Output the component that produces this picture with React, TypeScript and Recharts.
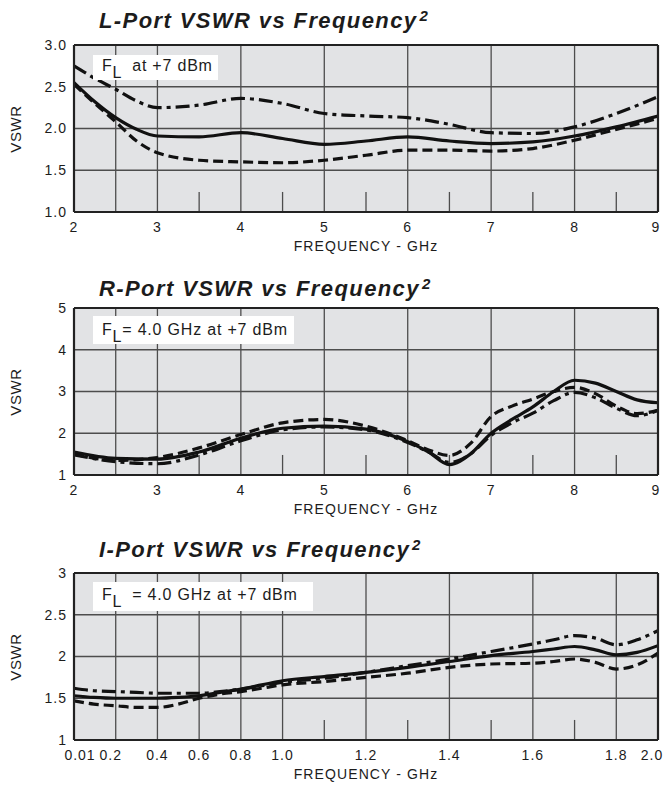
import React from 'react';
import { LineChart, Line, XAxis, YAxis, CartesianGrid, ReferenceLine } from 'recharts';

const FONT = '"Liberation Sans", Arial, Helvetica, sans-serif';
const INK = '#1c1c1c';
const PANEL = '#e2e3e5';
const GRID = '#4d4d4d';

// L-Port VSWR, frequency in GHz
const lFreq = [2, 2.25, 2.5, 2.75, 3, 3.5, 4, 4.5, 5, 5.5, 6, 6.5, 7, 7.5, 8, 8.5, 9];
const lSolid = [2.55, 2.32, 2.13, 1.99, 1.91, 1.9, 1.95, 1.88, 1.81, 1.85, 1.9, 1.85, 1.82, 1.84, 1.91, 2.02, 2.15];
const lDashed = [2.53, 2.3, 2.08, 1.85, 1.71, 1.62, 1.6, 1.59, 1.62, 1.68, 1.74, 1.74, 1.73, 1.76, 1.86, 1.99, 2.12];
const lDashDot = [2.75, 2.6, 2.47, 2.33, 2.25, 2.28, 2.36, 2.3, 2.18, 2.15, 2.13, 2.05, 1.95, 1.94, 2.02, 2.18, 2.38];

// R-Port VSWR
const rFreq = [2, 2.5, 3, 3.5, 4, 4.5, 5, 5.5, 6, 6.25, 6.5, 6.75, 7, 7.25, 7.5, 7.75, 8, 8.25, 8.5, 8.75, 9];
const rSolid = [1.55, 1.4, 1.38, 1.55, 1.88, 2.12, 2.17, 2.1, 1.8, 1.55, 1.25, 1.5, 2.0, 2.33, 2.63, 3.0, 3.27, 3.2, 3.0, 2.8, 2.73];
const rDashed = [1.5, 1.35, 1.42, 1.65, 1.97, 2.25, 2.33, 2.17, 1.82, 1.6, 1.47, 1.75, 2.4, 2.65, 2.82, 3.0, 3.1, 2.95, 2.65, 2.47, 2.55];
const rDashDot = [1.48, 1.32, 1.27, 1.48, 1.82, 2.08, 2.15, 2.08, 1.78, 1.55, 1.3, 1.5, 1.95, 2.25, 2.48, 2.78, 2.98, 2.85, 2.6, 2.42, 2.55];

// I-Port VSWR
const iFreq = [0.01, 0.1, 0.2, 0.3, 0.4, 0.5, 0.6, 0.7, 0.8, 0.9, 1.0, 1.1, 1.2, 1.3, 1.4, 1.5, 1.6, 1.65, 1.7, 1.75, 1.8, 1.9, 2.0];
const iSolid = [1.53, 1.51, 1.5, 1.5, 1.5, 1.51, 1.53, 1.57, 1.61, 1.66, 1.71, 1.76, 1.81, 1.87, 1.94, 2.01, 2.06, 2.09, 2.12, 2.08, 2.02, 2.05, 2.13];
const iDashed = [1.47, 1.43, 1.41, 1.39, 1.39, 1.43, 1.5, 1.55, 1.58, 1.62, 1.66, 1.7, 1.75, 1.8, 1.87, 1.91, 1.92, 1.94, 1.97, 1.93, 1.85, 1.9, 2.04];
const iDashDot = [1.62, 1.59, 1.58, 1.57, 1.56, 1.56, 1.56, 1.58, 1.61, 1.65, 1.69, 1.74, 1.81, 1.89, 1.97, 2.06, 2.15, 2.2, 2.25, 2.22, 2.14, 2.2, 2.31];
const iTickFreq = [0.01, 0.2, 0.4, 0.6, 0.8, 1.0, 1.2, 1.4, 1.6, 1.8, 2.0];
const iTickLabels = ['0.01', '0.2', '0.4', '0.6', '0.8', '1.0', '1.2', '1.4', '1.6', '1.8', '2.0'];
const iMinorFreq = [1.1, 1.3, 1.5, 1.7];

// the I-port axis is stretched above 1 GHz
const iPos = (f: number) => {
  const p = f <= 0.2 ? (f - 0.01) / 0.19 : f <= 1.0 ? f / 0.2 : f <= 1.8 ? 5 + (f - 1) / 0.1 : 13 + (f - 1.8) / 0.2;
  return Math.round(p * 1000) / 1000;
};

const build = (xs: number[], s: number[], d: number[], dd: number[]) =>
  xs.map((x, i) => ({ x, solid: s[i], dashed: d[i], dashDot: dd[i] }));

const lRows = build(lFreq, lSolid, lDashed, lDashDot);
const rRows = build(rFreq, rSolid, rDashed, rDashDot);
const iRows = build(iFreq.map(iPos), iSolid, iDashed, iDashDot);
const iTickPos = iTickFreq.map(iPos);

const ghzTicks = [2, 3, 4, 5, 6, 7, 8, 9];
const ghzFull = [2.5, 3, 4, 5, 6, 7, 8];
const ghzMinor = [3.5, 4.5, 5.5, 6.5, 7.5, 8.5];

type PortChartProps = {
  top: number;
  height: number;
  title: string;
  titleTop: number;
  box: React.ReactNode;
  boxTop: number;
  boxWidth: number;
  boxHeight: number;
  boxPad: number;
  rows: { x: number; solid: number; dashed: number; dashDot: number }[];
  xDomain: [number, number];
  xTicks: number[];
  xLabel: (v: number) => string;
  xShift?: (s: string) => number;
  fullX: number[];
  minorX: number[];
  yDomain: [number, number];
  yTicks: number[];
  yLabel: (v: number) => string;
  minorH: number;
};

const PortChart = (p: PortChartProps) => {
  const plotTop = p.top + 45;
  const xTick = (props: any) => {
    const s = p.xLabel(props.payload.value);
    const dx = p.xShift ? p.xShift(s) : 0;
    return (
      <text x={props.x + dx} y={props.y} dy="0.71em" textAnchor="middle" fontSize={14} fill={INK} style={{ letterSpacing: 1 }}>
        {s}
      </text>
    );
  };
  return (
    <div style={{ position: 'absolute', left: 0, top: p.top, width: 666, height: p.height }}>
      <LineChart
        width={666}
        height={p.height}
        data={p.rows}
        margin={{ top: 45, right: 8, bottom: p.height - 45 - 167 - 47, left: 0 }}
        style={{ fontFamily: FONT }}
      >
        <CartesianGrid vertical={false} fill={PANEL} fillOpacity={1} stroke={GRID} strokeWidth={1.3} />
        <XAxis
          dataKey="x"
          type="number"
          domain={p.xDomain}
          ticks={p.xTicks}
          interval={0}
          height={47}
          axisLine={false}
          tickLine={false}
          tickSize={0}
          tickMargin={10}
          tick={xTick}
          allowDataOverflow
          label={{ value: 'FREQUENCY - GHz', position: 'insideBottom', offset: 8, fontSize: 14, fill: INK, style: { letterSpacing: 1.1 } }}
        />
        <YAxis
          type="number"
          domain={p.yDomain}
          ticks={p.yTicks}
          interval={0}
          width={74}
          axisLine={false}
          tickLine={false}
          tickSize={0}
          tickMargin={7}
          tickFormatter={p.yLabel}
          tick={{ fontSize: 14, fill: INK, style: { letterSpacing: 1 } }}
          allowDataOverflow
        />
        {p.fullX.map((v) => (
          <ReferenceLine key={'f' + v} x={v} stroke={GRID} strokeWidth={1.3} />
        ))}
        {p.minorX.map((v) => (
          <ReferenceLine
            key={'m' + v}
            segment={[{ x: v, y: p.yDomain[0] }, { x: v, y: p.yDomain[0] + p.minorH }]}
            stroke={GRID}
            strokeWidth={1.3}
          />
        ))}
        <Line type="monotone" dataKey="solid" stroke="#111" strokeWidth={3.2} dot={false} isAnimationActive={false} />
        <Line type="monotone" dataKey="dashed" stroke="#111" strokeWidth={3.2} strokeDasharray="10 5" dot={false} isAnimationActive={false} />
        <Line type="monotone" dataKey="dashDot" stroke="#111" strokeWidth={3.2} strokeDasharray="14 5 4 5" dot={false} isAnimationActive={false} />
        <ReferenceLine x={p.xDomain[0]} stroke="#222" strokeWidth={2.2} />
        <ReferenceLine x={p.xDomain[1]} stroke="#222" strokeWidth={2.2} />
        <ReferenceLine y={p.yDomain[0]} stroke="#222" strokeWidth={2.2} />
        <ReferenceLine y={p.yDomain[1]} stroke="#222" strokeWidth={2.2} />
      </LineChart>
      <div
        style={{
          position: 'absolute',
          left: 99,
          top: p.titleTop - p.top,
          fontFamily: FONT,
          fontWeight: 'bold',
          fontStyle: 'italic',
          fontSize: 22,
          lineHeight: '22px',
          letterSpacing: 1.4,
          color: INK,
          whiteSpace: 'nowrap',
        }}
      >
        {p.title}
        <span style={{ position: 'relative', top: -7, fontSize: 15, marginLeft: 2 }}>2</span>
      </div>
      <div
        style={{
          position: 'absolute',
          left: 93,
          top: p.boxTop - p.top,
          width: p.boxWidth,
          height: p.boxHeight,
          boxSizing: 'border-box',
          paddingTop: p.boxPad,
          paddingLeft: 9,
          background: '#fff',
          fontFamily: FONT,
          fontSize: 16,
          lineHeight: '16px',
          letterSpacing: 0.8,
          color: INK,
          whiteSpace: 'pre',
        }}
      >
        {p.box}
      </div>
      <div
        style={{
          position: 'absolute',
          left: 15,
          top: plotTop - p.top + 83.5,
          transform: 'translate(-50%, -50%) rotate(-90deg)',
          fontFamily: FONT,
          fontSize: 15,
          lineHeight: '15px',
          letterSpacing: 0.6,
          color: INK,
          whiteSpace: 'nowrap',
        }}
      >
        VSWR
      </div>
    </div>
  );
};

const Sub = () => <span style={{ position: 'relative', top: 7 }}>L</span>;

const App = () => (
  <div style={{ position: 'absolute', left: 0, top: 0, width: 666, height: 787, background: '#fff' }}>
    <PortChart
      top={0}
      height={265}
      title="L-Port VSWR vs Frequency"
      titleTop={10}
      box={<>F<Sub />  at +7 dBm</>}
      boxTop={55}
      boxWidth={125}
      boxHeight={25}
      boxPad={3}
      rows={lRows}
      xDomain={[2, 9]}
      xTicks={ghzTicks}
      xLabel={(v) => String(v)}
      xShift={(s) => (s === '9' ? -2 : 0)}
      fullX={ghzFull}
      minorX={ghzMinor}
      yDomain={[1, 3]}
      yTicks={[1, 1.5, 2, 2.5, 3]}
      yLabel={(v) => v.toFixed(1)}
      minorH={0.24}
    />
    <PortChart
      top={263}
      height={265}
      title="R-Port VSWR vs Frequency"
      titleTop={278}
      box={<>F<Sub />= 4.0 GHz at +7 dBm</>}
      boxTop={316}
      boxWidth={201}
      boxHeight={28}
      boxPad={6}
      rows={rRows}
      xDomain={[2, 9]}
      xTicks={ghzTicks}
      xLabel={(v) => String(v)}
      xShift={(s) => (s === '9' ? -2 : 0)}
      fullX={ghzFull}
      minorX={ghzMinor}
      yDomain={[1, 5]}
      yTicks={[1, 2, 3, 4, 5]}
      yLabel={(v) => String(v)}
      minorH={0.48}
    />
    <PortChart
      top={528}
      height={259}
      title="I-Port VSWR vs Frequency"
      titleTop={539}
      box={<>F<Sub />  = 4.0 GHz at +7 dBm</>}
      boxTop={582}
      boxWidth={220}
      boxHeight={29}
      boxPad={5}
      rows={iRows}
      xDomain={[0, 14]}
      xTicks={iTickPos}
      xLabel={(v) => iTickLabels[iTickPos.indexOf(v)]}
      xShift={(s) => (s === '0.01' ? 6 : s === '0.2' ? -5 : s === '2.0' ? -6 : 0)}
      fullX={iTickPos.slice(1, -1)}
      minorX={iMinorFreq.map(iPos)}
      yDomain={[1, 3]}
      yTicks={[1, 1.5, 2, 2.5, 3]}
      yLabel={(v) => String(v)}
      minorH={0.24}
    />
  </div>
);

export default App;
